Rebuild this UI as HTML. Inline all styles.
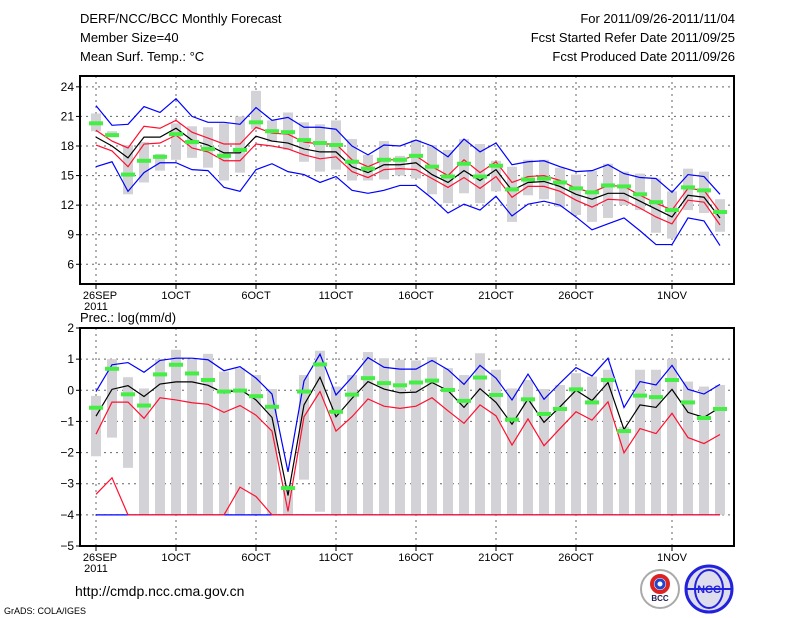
<!DOCTYPE html>
<html><head><meta charset="utf-8"><style>
body{margin:0;background:#fff;width:800px;height:618px;overflow:hidden}
svg{display:block;font-family:"Liberation Sans",sans-serif}
</style></head><body>
<svg id="c" width="800" height="618" xmlns="http://www.w3.org/2000/svg">
<g font-size="13" fill="#000">
<text x="80" y="23">DERF/NCC/BCC Monthly Forecast</text>
<text x="80" y="42">Member Size=40</text>
<text x="80" y="61">Mean Surf. Temp.: °C</text>
<text x="735" y="23" text-anchor="end">For 2011/09/26-2011/11/04</text>
<text x="735" y="42" text-anchor="end">Fcst Started Refer Date 2011/09/25</text>
<text x="735" y="61" text-anchor="end">Fcst Produced Date 2011/09/26</text>
</g>
<text x="80" y="322" font-size="13">Prec.: log(mm/d)</text>
<text x="75" y="596" font-size="14">http://cmdp.ncc.cma.gov.cn</text>
<text x="4" y="614" font-size="9">GrADS: COLA/IGES</text>
<g>
<circle cx="660" cy="589" r="19" fill="#fff" stroke="#aaa" stroke-width="2"/>
<circle cx="660" cy="584" r="8" fill="none" stroke="#d22" stroke-width="4"/>
<circle cx="660" cy="584" r="4" fill="none" stroke="#24c" stroke-width="3"/>
<text x="660" y="601" font-size="8" text-anchor="middle" font-weight="bold" fill="#225">BCC</text>
</g>
<g>
<circle cx="709" cy="589" r="23" fill="#dde" stroke="#22d" stroke-width="3"/>
<ellipse cx="709" cy="589" rx="14" ry="19" fill="none" stroke="#22d" stroke-width="2"/>
<line x1="686" y1="589" x2="732" y2="589" stroke="#22d" stroke-width="2"/>
<text x="709" y="593" font-size="11" text-anchor="middle" font-weight="bold" fill="#22d">NCC</text>
</g>
</svg>
<script>
// ---- temperature data (°C) ----
const tMean=[18.9,18.0,16.8,18.9,18.9,19.8,18.6,18.1,17.3,17.3,19.0,18.5,18.3,17.7,17.4,17.4,15.9,15.3,16.1,16.1,16.3,15.1,14.3,15.5,14.5,15.6,13.5,14.3,14.4,13.9,13.1,12.6,13.2,13.2,12.4,11.6,10.8,13.0,12.8,10.7];
const tRedHi=[19.6,18.5,17.8,20.0,19.8,20.6,19.4,18.8,18.2,18.2,19.9,19.3,19.2,18.4,18.2,18.2,16.6,15.9,16.6,16.6,17.0,15.9,15.0,16.6,15.3,16.4,14.3,14.9,15.0,14.5,13.7,13.3,14.0,13.9,13.0,12.2,11.5,13.7,13.5,11.3];
const tRedLo=[18.1,17.5,15.9,18.2,18.3,19.1,17.8,17.4,16.5,16.5,18.2,18.0,17.7,17.1,16.7,16.9,15.4,14.8,15.6,15.7,15.6,14.7,13.8,14.8,13.7,14.9,12.8,13.9,13.9,13.4,12.5,11.8,12.6,12.5,11.7,10.8,10.1,12.5,12.3,10.0];
const tBlueHi=[22.1,20.1,20.2,22.0,21.4,22.8,21.0,20.4,20.4,20.2,21.9,20.6,20.9,19.9,19.9,19.7,18.0,17.1,18.1,18.0,18.6,18.0,16.9,18.7,17.4,18.3,16.1,16.4,16.5,15.9,15.4,15.5,16.1,15.2,14.8,14.7,13.3,15.1,14.9,13.1];
const tBlueLo=[15.9,16.4,13.4,15.3,16.3,16.3,15.6,15.5,13.8,13.4,15.6,16.2,15.4,15.1,14.3,14.9,13.5,13.2,13.5,14.0,14.0,12.7,11.2,12.1,11.5,12.9,10.9,12.1,12.4,12.0,10.8,9.5,10.1,10.7,9.4,8.0,8.0,10.7,10.4,7.9];
const tGreen=[20.3,19.1,15.1,16.5,16.9,19.2,18.4,17.7,17.0,17.6,20.4,19.5,19.4,18.6,18.3,18.1,16.4,15.7,16.6,16.6,17.0,15.9,14.9,16.2,14.9,16.0,13.6,14.6,14.7,14.3,13.7,13.3,14.0,13.9,13.1,12.3,11.5,13.8,13.5,11.3];
const tBarHi=[21.3,19.5,18.1,18.4,17.2,20.3,20.0,19.9,20.3,21.0,23.6,20.6,21.4,20.4,20.2,20.6,18.7,17.1,18.5,17.0,18.6,18.1,17.6,18.7,18.2,16.5,15.9,16.6,16.6,15.8,15.1,15.5,16.2,15.4,15.2,14.7,13.4,15.7,15.4,12.6];
const tBarLo=[19.5,18.9,13.1,14.3,15.5,16.6,16.8,15.8,14.5,15.3,19.7,18.4,17.6,16.4,15.4,15.6,14.5,14.5,14.6,15.0,14.7,13.1,12.2,13.2,12.2,13.4,10.3,13.0,12.6,11.8,11.0,10.3,10.7,12.0,11.5,9.2,8.6,11.5,11.2,9.3];
const tTicks=[6,9,12,15,18,21,24];
// ---- precipitation data (log mm/d) ----
const pMean=[-0.83,0.03,0.15,-0.20,0.20,0.27,0.27,0.16,-0.09,0.03,-0.31,-0.87,-3.38,-0.47,0.42,-0.85,-0.26,0.28,0.04,-0.08,-0.06,0.25,-0.01,-0.55,0.05,-0.39,-1.09,-0.28,-1.03,-0.53,0,-0.33,0.25,-1.26,-0.47,-0.55,0.03,-0.71,-0.87,-0.55];
const pRedHi=[-1.41,-0.38,-0.38,-0.90,-0.24,-0.31,-0.40,-0.45,-0.71,-0.49,-0.80,-1.31,-3.89,-0.85,-0.04,-1.31,-0.85,-0.28,-0.51,-0.58,-0.51,-0.24,-0.66,-1.06,-0.47,-0.82,-1.76,-0.92,-1.78,-1.23,-0.69,-0.96,-0.37,-2.01,-1.23,-1.39,-0.74,-1.52,-1.71,-1.42];
const pRedLo=[-3.34,-2.81,-4,-4,-4,-4,-4,-4,-4,-3.11,-3.41,-4,-4,-4,-4,-4,-4,-4,-4,-4,-4,-4,-4,-4,-4,-4,-4,-4,-4,-4,-4,-4,-4,-4,-4,-4,-4,-4,-4,-4];
const pBlueHi=[-0.04,0.82,0.89,0.58,0.96,1.03,1.03,0.98,0.63,0.76,0.39,-0.12,-2.62,0.30,1.16,-0.15,0.42,1.05,0.74,0.68,0.68,0.96,0.66,0.19,0.80,0.39,-0.31,0.52,-0.29,0.23,0.73,0.46,1.03,-0.55,0.28,0.17,0.80,0.03,-0.12,0.19];
const pBlueLo=[-4,-4,-4,-4,-4,-4,-4,-4,-4,-4,-4,-4,-4,-4,-4,-4,-4,-4,-4,-4,-4,-4,-4,-4,-4,-4,-4,-4,-4,-4,-4,-4,-4,-4,-4,-4,-4,-4,-4,-4];
const pGreen=[-0.56,0.69,-0.13,-0.49,0.51,0.82,0.54,0.33,-0.04,-0.01,-0.19,-0.53,-3.14,-0.04,0.83,-0.69,-0.14,0.39,0.23,0.16,0.25,0.31,0.01,-0.34,0.41,-0.15,-0.94,-0.29,-0.76,-0.60,0.03,-0.39,0.33,-1.31,-0.17,-0.22,0.33,-0.39,-0.89,-0.60];
const pBarHi=[-0.18,1,0.42,0.06,1,1.30,1,1.17,0.60,0.71,0.49,0.04,-3.05,0.49,1.27,0.12,0.49,1.23,1.03,0.98,0.96,1.06,0.71,0.49,1.19,0.66,0.06,0.33,0.04,0.17,0.55,0.44,0.66,-1.17,0.66,0.66,1,0.28,0.12,0.17];
const pBarLo=[-2.12,-1.52,-2.49,-4,-4,-4,-4,-4,-4,-4,-4,-4,-4,-2.87,-3.9,-4,-4,-4,-4,-4,-4,-4,-4,-4,-4,-4,-4,-4,-4,-4,-4,-4,-4,-4,-4,-4,-4,-4,-4,-4];
const pTicks=[-5,-4,-3,-2,-1,0,1,2];
const dateLabels=["26SEP","1OCT","6OCT","11OCT","16OCT","21OCT","26OCT","1NOV"];
const dateDays=[0,5,10,15,20,25,30,36];

const NS="http://www.w3.org/2000/svg";
const svg=document.getElementById('c');
function mk(tag,attrs,parent){const e=document.createElementNS(NS,tag);for(const k in attrs)e.setAttribute(k,attrs[k]);(parent||svg).appendChild(e);return e;}
const X0=80,X1=734;
function xDay(d){return 96+16*d;}

function panel(name,top,bot,vmin,vmax,ticks,S){
  const y=v=>bot-(v-vmin)/(vmax-vmin)*(bot-top);
  const g=mk('g',{});
  
  
  // grid
  ticks.forEach(t=>{
    if(t>vmin&&t<vmax){const l=mk('line',{x1:X0,x2:X1,y1:y(t),y2:y(t),stroke:'#666','stroke-dasharray':'2,4','stroke-width':1},g);
    
    }
    const tk=mk('line',{x1:X0-4,x2:X0,y1:y(t),y2:y(t),stroke:'#000'},g);
    
    
    const tx=mk('text',{x:X0-6,y:y(t)+4,'text-anchor':'end','font-size':12},g);
    tx.textContent=t<0?'\u2212'+(-t):t;
    
    
  });
  dateDays.forEach((d,i)=>{
    const l=mk('line',{x1:xDay(d),x2:xDay(d),y1:top,y2:bot,stroke:'#666','stroke-dasharray':'2,4'},g);
    
    
    const tk=mk('line',{x1:xDay(d),x2:xDay(d),y1:bot,y2:bot+5,stroke:'#000'},g);
    
    
    const tx=mk('text',{x:xDay(d)+(i==0?4:0),y:bot+15,'text-anchor':'middle','font-size':11},g);
    tx.textContent=dateLabels[i];
    
    
  });
  const yr=mk('text',{x:96,y:bot+26,'text-anchor':'middle','font-size':11},g);
  yr.textContent='2011';
  
  
  // bars
  S.barHi.forEach((h,i)=>{
    const lo=S.barLo[i];
    const r=mk('rect',{x:xDay(i)-5,y:y(h),width:10,height:Math.max(1,y(lo)-y(h)),fill:'#d3d3d7'},g);
    
    
  });
  function line(arr,col,nm){
    const p=mk('polyline',{points:arr.map((v,i)=>xDay(i)+','+y(v)).join(' '),fill:'none',stroke:col,'stroke-width':1.2},g);
    
    
  }
  line(S.blueLo,'#0000ff','blue-lower-line');
  line(S.blueHi,'#0000ff','blue-upper-line');
  line(S.redLo,'#ff1030','red-lower-line');
  line(S.redHi,'#ff1030','red-upper-line');
  line(S.mean,'#000','ensemble-mean-line');
  S.green.forEach((v,i)=>{
    const r=mk('rect',{x:xDay(i)-7,y:y(v)-2,width:14,height:4,fill:'#44ee44'},g);
    
    
  });
  const f=mk('rect',{x:X0,y:top,width:X1-X0,height:bot-top,fill:'none',stroke:'#000','stroke-width':2},g);
  
  
}
panel('temperature-panel',76,284,4,25.1,tTicks,{mean:tMean,redHi:tRedHi,redLo:tRedLo,blueHi:tBlueHi,blueLo:tBlueLo,green:tGreen,barHi:tBarHi,barLo:tBarLo});
panel('precipitation-panel',328,546,-5,2,pTicks,{mean:pMean,redHi:pRedHi,redLo:pRedLo,blueHi:pBlueHi,blueLo:pBlueLo,green:pGreen,barHi:pBarHi,barLo:pBarLo});
</script>
</body></html>
